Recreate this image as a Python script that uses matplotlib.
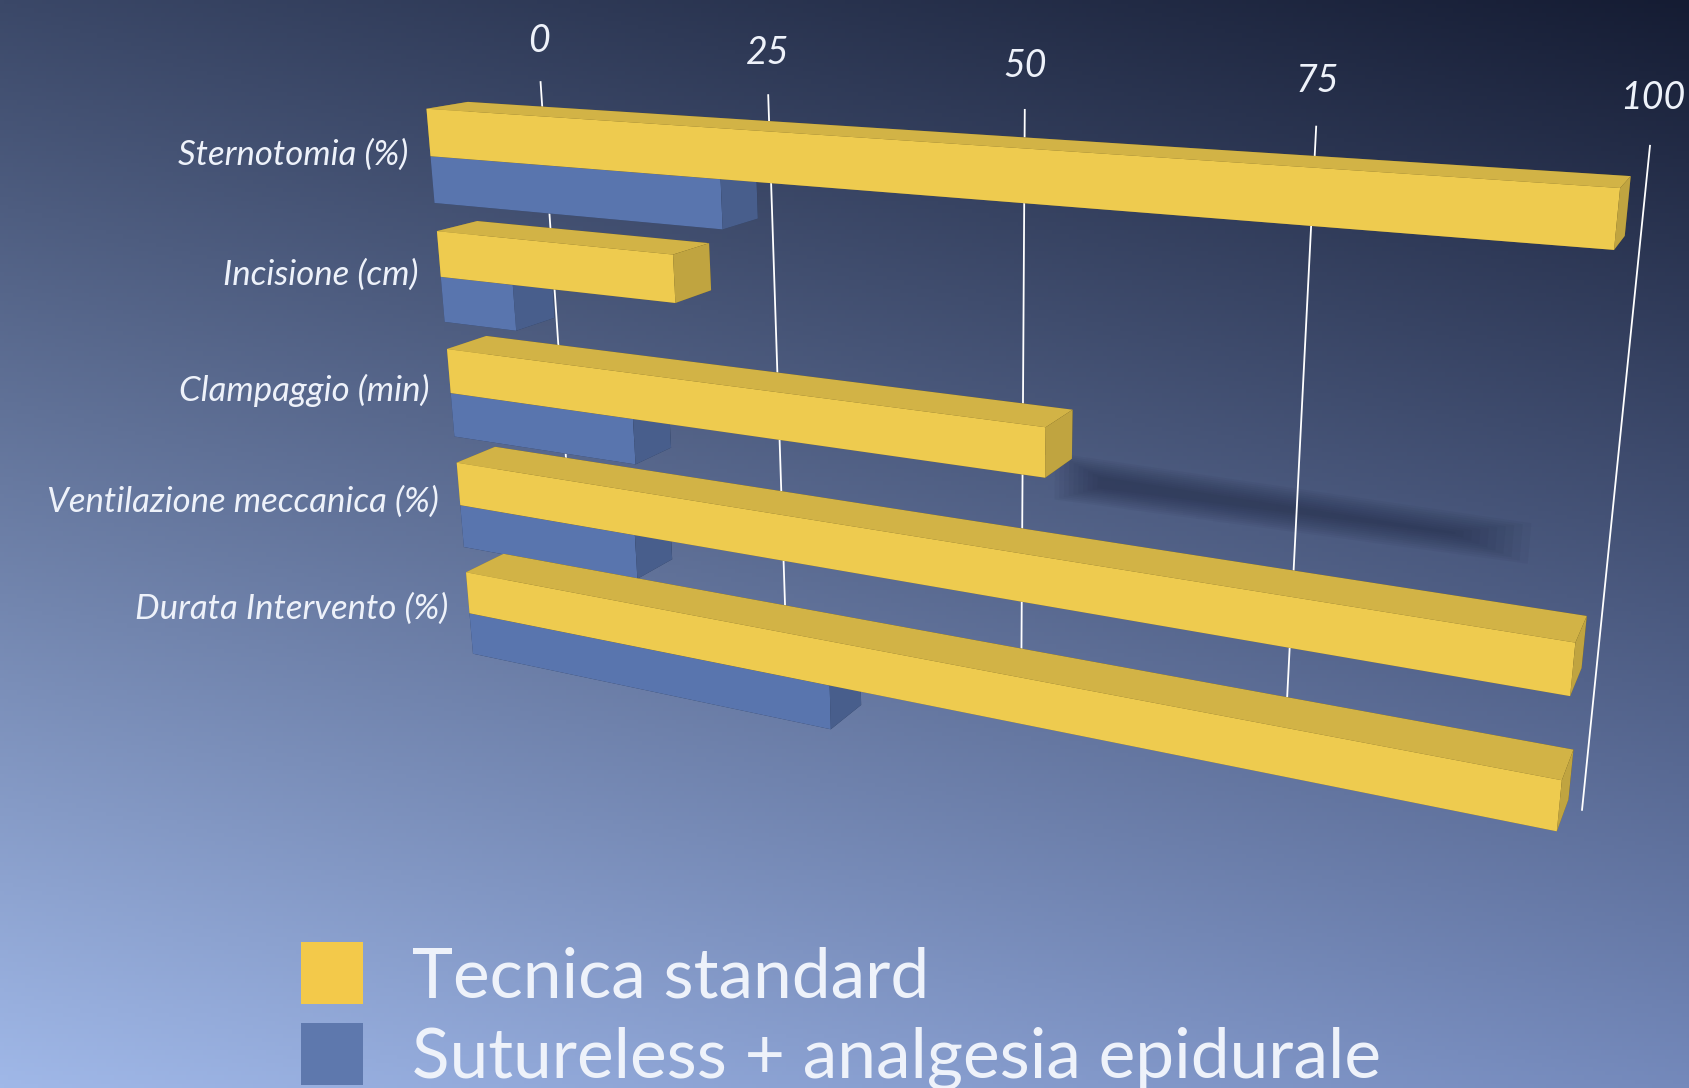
import numpy as np
import matplotlib
matplotlib.use("Agg")
import matplotlib.pyplot as plt
from matplotlib.colors import LightSource, to_rgb
from matplotlib.patches import Patch
from mpl_toolkits.mplot3d.art3d import Poly3DCollection

# ---------------- data ----------------
categories = ["Sternotomia (%)", "Incisione (cm)", "Clampaggio (min)",
              "Ventilazione meccanica (%)", "Durata Intervento (%)"]
standard = [100, 25, 59, 100, 100]          # Tecnica standard
sutureless = [30, 8, 20, 19.5, 39]          # Sutureless + analgesia epidurale
series_names = ["Tecnica standard", "Sutureless + analgesia epidurale"]
x_ticks = [0, 25, 50, 75, 100]

# ---------------- style ----------------
W, H, DPI = 1690, 1088, 100
FONT = ["Lato", "DejaVu Sans"]
plt.rcParams['font.family'] = FONT
YELLOW = "#ffd955"
BLUE = "#5f7dba"
TXT = "#eef2fa"

fig = plt.figure(figsize=(W / DPI, H / DPI), dpi=DPI)

# background gradient (bilinear between corner colours)
bg = fig.add_axes([0, 0, 1, 1], zorder=0)
bg.set_axis_off()
tl, tr = np.array(to_rgb("#3b4868")), np.array(to_rgb("#151c33"))
bl, br = np.array(to_rgb("#a0b8e8")), np.array(to_rgb("#7489bb"))
u = np.linspace(0, 1, 400)[None, :, None]
v = np.linspace(0, 1, 260)[:, None, None]
img = (1 - v) * ((1 - u) * tl + u * tr) + v * ((1 - u) * bl + u * br)
bg.imshow(np.clip(img, 0, 1), extent=[0, 1, 0, 1], aspect="auto", origin="upper")
bg.set_xlim(0, 1)
bg.set_ylim(0, 1)

# 3D axes
ax = fig.add_axes([0.069, -0.205, 1.0, 1.5533], projection="3d", zorder=1)
ax.patch.set_alpha(0)
ax.set_axis_off()
ax.computed_zorder = False

n = len(categories)
bar_h = 4.6
bar_d = 5.5
gap = 2.8
pitch = 2 * bar_h + gap
wall_y = 16.0
zc = [bar_h + (n - 1 - i) * pitch for i in range(n)]
z_top = zc[0] + bar_h + 0.8
z_bot = -2.0

# soft shadow of the shortest long bar on the back wall
k = 2
for s in range(10):
    grow = 0.5 * s
    x0, x1 = standard[k] * 0.9 + 0.9 * grow, standard[k] + 35 - 1.3 * grow
    zm = zc[k] - bar_h - 1.4
    half = 2.4 - grow * 0.4
    verts = [[(x0, wall_y, zm - half), (x1, wall_y, zm - half + 0.5),
              (x1, wall_y, zm + half - 0.5), (x0, wall_y, zm + half)]]
    ax.add_collection3d(Poly3DCollection(verts, facecolor="#18203a",
                                         edgecolor="none", alpha=0.055, zorder=0.5))

# gridlines on the back wall
for t in x_ticks:
    ax.plot([t, t], [wall_y, wall_y], [z_bot, z_top], color="white", lw=1.3, zorder=1)

xs, ys, zs, dxs, dys, dzs, cols = [], [], [], [], [], [], []
for i in range(n):
    for val, z0, c in ((standard[i], zc[i], YELLOW), (sutureless[i], zc[i] - bar_h, BLUE)):
        xs.append(0); ys.append(0); zs.append(z0)
        dxs.append(val); dys.append(bar_d); dzs.append(bar_h)
        cols.append(c)

ax.bar3d(xs, ys, zs, dxs, dys, dzs, color=cols, shade=True,
         lightsource=LightSource(azdeg=160, altdeg=30), linewidth=0, zorder=3)

ax.set_xlim(0, 100, view_margin=0)
ax.set_ylim(0, wall_y, view_margin=0)
ax.set_zlim(z_bot, z_top, view_margin=0)
aspect = np.array([100.0, wall_y, (z_top - z_bot) * 0.9])
k_scale = 0.006812
ax.set_box_aspect(tuple(aspect), zoom=k_scale * np.linalg.norm(aspect))
ax.set_proj_type("persp", focal_length=160 * 1.9055 * k_scale / 10)
ax.view_init(elev=17, azim=-65, roll=0)

# project 3D anchor points to place flat 2D texts
fig.canvas.draw()
M = ax.get_proj()


def proj(x, y, z):
    p = M @ np.array([x, y, z, 1.0])
    return p[0] / p[3], p[1] / p[3]


for t in x_ticks:
    px, py = proj(t, wall_y, z_top + 2.4)
    fig.text(px, py, str(t), transform=ax.transData, ha="center", va="bottom",
             fontsize=27, style="italic", color=TXT, zorder=5)

for i, cat in enumerate(categories):
    px, py = proj(-2.5, 0, zc[i])
    fig.text(px, py, cat, transform=ax.transData, ha="right", va="center",
             fontsize=25, style="italic", color=TXT, zorder=5)

# legend
handles = [Patch(facecolor="#f3c94a", edgecolor="none"),
           Patch(facecolor="#5e78ad", edgecolor="none")]
fig.legend(handles=handles, labels=series_names, loc="upper left",
           bbox_to_anchor=(0.178, 0.134), frameon=False, fontsize=50,
           handlelength=0.9, handleheight=1.0, handletextpad=0.7,
           labelspacing=0.2, labelcolor=TXT, borderpad=0, borderaxespad=0)

fig.savefig("out.png", dpi=DPI)
